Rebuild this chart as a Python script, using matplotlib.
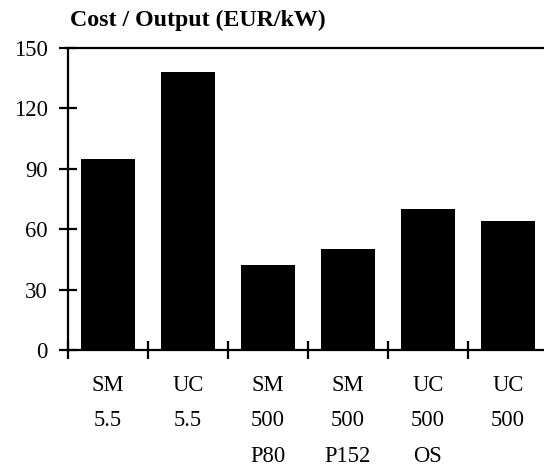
import numpy as np
import matplotlib.pyplot as plt

# data
labels = ['SM\n5.5', 'UC\n5.5', 'SM\n500\nP80', 'SM\n500\nP152', 'UC\n500\nOS', 'UC\n500']
values = [95, 138, 42, 50, 70, 64]
yticks = [0, 30, 60, 90, 120, 150]

plt.rcParams['font.family'] = ['Liberation Serif', 'DejaVu Serif']

W, H = 544, 470
fig = plt.figure(figsize=(W / 100, H / 100), dpi=100)
# x range 0..6 spans 68..548 px, so the right end runs off the figure
ax = fig.add_axes([68 / W, (H - 350) / H, 480 / W, 302 / H])

x = np.arange(len(values)) + 0.5
ax.bar(x, values, width=0.67, color='black')

ax.set_xlim(0, len(values))
ax.set_ylim(0, 150)

for s in ['left', 'bottom', 'top']:
    ax.spines[s].set_linewidth(1.6)
ax.spines['right'].set_visible(False)

ax.set_yticks(yticks)
ax.set_xticks(np.arange(len(values) + 1))
ax.set_xticklabels([])
ax.set_xticks(x, minor=True)
ax.set_xticklabels(labels, minor=True, linespacing=1.9, va='top')

ax.tick_params(axis='both', which='major', direction='inout', length=13,
               width=1.6, labelsize=16.3)
ax.tick_params(axis='y', pad=8)
ax.tick_params(axis='x', which='minor', length=0, labelsize=16.3, pad=18)

fig.text(70 / W, 1 - 20 / H, 'Cost / Output (EUR/kW)', fontsize=17.2,
         fontweight='bold', va='center', ha='left')

fig.savefig('out.png', dpi=100)
